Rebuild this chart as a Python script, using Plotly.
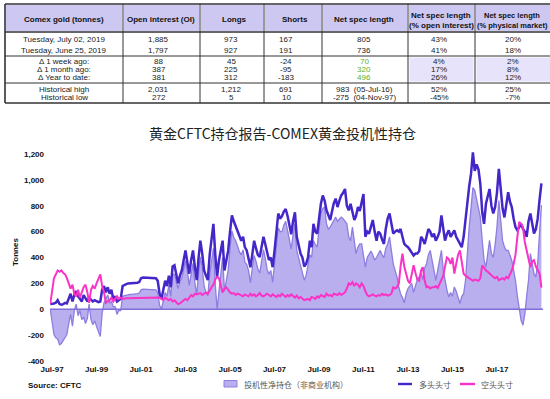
import plotly.graph_objects as go
import pandas as pd

# ---------------- DATA ----------------
dates = pd.date_range('1997-06-01', '2019-07-01', freq='MS')

longs = [
    40, 40, 45, 50, 70, 40, 35,                                  # 1997 Jun-Dec
    40, 50, 45, 90, 120, 60, 110, 140, 100, 80, 60, 110,         # 1998
    80, 60, 90, 70, 60, 70, 60, 55, 60, 150, 180, 130,           # 1999
    170, 120, 150, 80, 100, 60, 70, 80, 180, 190, 195, 200,      # 2000
    200, 200, 200, 200, 205, 210, 240, 245, 245, 245, 245, 245,  # 2001
    245, 240, 240, 220, 120, 80, 150, 220, 180, 260, 170, 330,   # 2002
    340, 250, 200, 260, 300, 380, 455, 360, 275, 380, 455, 330,  # 2003
    225, 400, 530, 430, 300, 260, 225, 420, 560, 660, 420, 250,  # 2004
    380, 470, 530, 300, 380, 455, 600, 725, 680, 640, 610, 560,  # 2005
    530, 560, 480, 455, 400, 325, 420, 530, 470, 420, 404, 470,  # 2006
    560, 500, 430, 380, 400, 325, 450, 600, 740, 700, 720, 755,  # 2007
    775, 720, 635, 580, 680, 750, 560, 480, 430, 400, 330, 350,  # 2008
    400, 530, 480, 660, 600, 585, 720, 815, 880, 840, 765, 720,  # 2009
    690, 760, 820, 855, 790, 840, 880, 900, 930, 800, 765, 815,  # 2010
    760, 690, 720, 790, 760, 820, 890, 560, 600, 585, 650, 690,  # 2011
    600, 530, 600, 585, 540, 505, 620, 700, 740, 650, 585, 600,  # 2012
    610, 600, 620, 560, 505, 490, 480, 460, 440, 415, 430, 430,  # 2013
    450, 560, 540, 505, 560, 620, 600, 560, 585, 530, 560, 600,  # 2014
    725, 600, 530, 580, 610, 560, 580, 610, 560, 530, 500, 480,  # 2015
    560, 700, 840, 950, 1046, 1212, 1070, 1120, 1080, 970, 750, 660,  # 2016
    815, 870, 930, 800, 740, 790, 900, 1085, 900, 780, 710, 800,  # 2017
    905, 830, 790, 700, 635, 610, 640, 660, 620, 600, 560, 680,  # 2018
    740, 650, 585, 620, 700, 850, 973,                           # 2019 Jan-Jul
]

shorts = [
    40, 150, 240, 270, 300, 290, 300,
    280, 270, 240, 200, 160, 190, 120, 100, 150, 90, 140, 170,
    190, 130, 50, 150, 180, 160, 200, 230, 270, 180, 130, 50,
    60, 70, 90, 60, 80, 100, 80, 90, 80, 85, 85, 85,
    85, 85, 85, 85, 85, 88, 90, 90, 90, 90, 90, 90,
    90, 90, 90, 90, 90, 80, 70, 90, 80, 70, 80, 60,
    70, 50, 40, 45, 60, 70, 80, 70, 90, 110, 100, 120,
    115, 120, 125, 110, 120, 130, 120, 150, 170, 190, 230, 250,
    240, 180, 130, 160, 170, 150, 130, 120, 125, 110, 120, 115,
    110, 100, 115, 110, 100, 120, 105, 115, 100, 110, 125, 105,
    100, 110, 120, 110, 100, 115, 105, 95, 110, 100, 120, 105,
    95, 110, 100, 115, 105, 90, 105, 85, 95, 80, 70, 75,
    80, 70, 95, 90, 80, 100, 90, 110, 100, 95, 120, 105,
    110, 100, 120, 115, 110, 125, 110, 120, 130, 160, 200, 190,
    210, 180, 200, 190, 170, 200, 180, 140, 110, 100, 110, 115,
    105, 100, 110, 105, 120, 110, 115, 105, 110, 120, 170, 160,
    170, 200, 330, 430, 330, 275, 220, 200, 260, 340, 280, 230,
    220, 300, 325, 220, 170, 175, 160, 170, 170, 180, 165, 200,
    225, 260, 330, 400, 390, 350, 400, 275, 350, 420, 455, 380,
    275, 260, 250, 235, 225, 220, 230, 225, 220, 240, 340, 320,
    300, 290, 275, 260, 250, 240, 250, 225, 235, 240, 230, 250,
    240, 275, 300, 350, 420, 560, 675, 660, 635, 520, 455, 380,
    325, 370, 380, 330, 300, 275, 167,
]

net = [
    0, -110, -195, -220, -230, -275, -265,
    -240, -220, -195, -110, -40, -130, -10, 40, -50, -10, -80, -60,
    -110, -70, 40, -80, -120, -90, -140, -175, -210, -30, 50, 80,
    110, 50, 60, 20, 20, -40, -10, -10, 100, 105, 110, 115,
    115, 115, 115, 115, 120, 125, 150, 155, 155, 155, 155, 155,
    155, 150, 150, 130, 30, 0, 80, 130, 100, 190, 100, 270,
    270, 200, 160, 215, 240, 310, 375, 290, 185, 270, 355, 210,
    110, 280, 405, 320, 180, 130, 105, 270, 390, 470, 190, 0,
    140, 290, 400, 140, 210, 305, 470, 605, 555, 530, 490, 445,
    420, 460, 365, 345, 300, 205, 315, 415, 370, 310, 280, 365,
    460, 390, 310, 270, 300, 210, 345, 505, 630, 600, 600, 650,
    680, 610, 535, 465, 575, 660, 455, 395, 335, 300, 225, 260,
    330, 420, 400, 530, 500, 480, 620, 740, 780, 790, 660, 620,
    635, 660, 690, 712, 680, 700, 712, 700, 680, 660, 560, 530,
    635, 520, 430, 480, 505, 505, 420, 325, 400, 430, 450, 420,
    380, 400, 430, 455, 420, 400, 470, 505, 560, 450, 350, 300,
    250, 170, 120, 90, 50, 120, 160, 180, 200, 130, 190, 230,
    250, 280, 230, 320, 350, 420, 455, 390, 300, 224, 300, 380,
    455, 300, 224, 150, 95, 130, 100, 172, 140, 100, 44, 100,
    120, 224, 450, 635, 780, 940, 920, 840, 780, 712, 532, 380,
    326, 450, 532, 430, 400, 500, 635, 840, 700, 532, 480, 455,
    455, 420, 378, 300, 224, 100, 18, -85, -123, -40, 100, 224,
    430, 350, 275, 250, 350, 600, 805,
]

x_tick_vals = ['1997-07-01', '1999-07-01', '2001-07-01', '2003-07-01', '2005-07-01',
               '2007-07-01', '2009-07-01', '2011-07-01', '2013-07-01', '2015-07-01',
               '2017-07-01']
x_tick_text = ['Jul-97', 'Jul-99', 'Jul-01', 'Jul-03', 'Jul-05', 'Jul-07', 'Jul-09',
               'Jul-11', 'Jul-13', 'Jul-15', 'Jul-17']
y_tick_vals = [-400, -200, 0, 200, 400, 600, 800, 1000, 1200]
y_tick_text = ['-400', '-200', '0', '200', '400', '600', '800', '1,000', '1,200']

title_text = '黄金CFTC持仓报告-COMEX黄金投机性持仓'
legend_net = '投机性净持仓（非商业机构）'
legend_long = '多头头寸'
legend_short = '空头头寸'
source_text = 'Source: CFTC'

# table
table_header = [
    ['Comex gold (tonnes)'],
    ['Open interest (OI)'],
    ['Longs'],
    ['Shorts'],
    ['Net spec length'],
    ['Net spec length', '(% open interest)'],
    ['Net spec length', '(% physical market)'],
]
table_rows = [
    ['Tuesday, July 02, 2019', '1,885', '973', '167', '805', '43%', '20%'],
    ['Tuesday, June 25, 2019', '1,797', '927', '191', '736', '41%', '18%'],
    ['Δ 1 week ago:', '88', '45', '-24', '70', '4%', '2%'],
    ['Δ 1 month ago:', '387', '225', '-95', '320', '17%', '8%'],
    ['Δ Year to date:', '381', '312', '-183', '496', '26%', '12%'],
    ['Historical high', '2,031', '1,212', '691', '983  (05-Jul-16)', '52%', '25%'],
    ['Historical low', '272', '5', '10', '-275  (04-Nov-97)', '-45%', '-7%'],
]

# ---------------- LAYOUT GEOMETRY ----------------
W, H = 550, 399
L, R, T, B = 50, 7, 150, 38
PW, PH = W - L - R, H - T - B
def X(px):
    return (px - L) / PW
def Y(py):
    return (H - B - py) / PH

C_LONG = '#4527C9'
C_SHORT = '#FA32C6'
C_NETL = '#8D7EE0'
C_NETF = '#B9AFEE'

fig = go.Figure()
fig.add_trace(go.Scatter(x=dates, y=net, mode='lines', fill='tozeroy',
                         line=dict(color=C_NETL, width=1.3), fillcolor=C_NETF,
                         name=legend_net))
fig.add_trace(go.Scatter(x=dates, y=longs, mode='lines',
                         line=dict(color=C_LONG, width=2.5), name=legend_long))
fig.add_trace(go.Scatter(x=dates, y=shorts, mode='lines',
                         line=dict(color=C_SHORT, width=2), name=legend_short))

shapes = []
annotations = []

# zero line
shapes.append(dict(type='line', xref='paper', yref='y', x0=0, x1=1, y0=0, y1=0,
                   line=dict(color='#7F6FD6', width=1.5), layer='above'))

# ---------------- TABLE ----------------
TF = 'Liberation Sans, Arial, sans-serif'
col_edges = [5, 123, 200, 264, 322, 408, 475, 560]
head_top, head_bot = 4, 32
tab_bot = 103
group_lines = [56, 83]
row_py = [40, 50.5, 61.5, 69.5, 77, 89, 97.5]
head_cx = [64, 161, 234, 295, 364, 441, 512]
body_cx = [64, 158.5, 231, 286, 364, 439, 513]
LINE_C = '#333333'

for i in range(7):
    shapes.append(dict(type='rect', xref='paper', yref='paper',
                       x0=X(col_edges[i] + 1), x1=X(col_edges[i + 1] - 1),
                       y0=Y(head_top + 1), y1=Y(head_bot - 1),
                       fillcolor='#CDC8F2', line=dict(width=0), layer='above'))
for i in (5, 6):
    shapes.append(dict(type='rect', xref='paper', yref='paper',
                       x0=X(col_edges[i] + 1.5), x1=X(col_edges[i + 1] - 1.5),
                       y0=Y(57.5), y1=Y(81.5),
                       fillcolor='#E7E3FA', line=dict(width=0), layer='above'))
# horizontal lines
for py, w in [(head_top, 1.6), (head_bot, 1.6), (group_lines[0], 1), (group_lines[1], 1), (tab_bot, 1.6)]:
    shapes.append(dict(type='line', xref='paper', yref='paper', x0=X(col_edges[0]), x1=X(col_edges[-1]),
                       y0=Y(py), y1=Y(py), line=dict(color=LINE_C, width=w), layer='above'))
# vertical lines
for i, px in enumerate(col_edges[:-1]):
    shapes.append(dict(type='line', xref='paper', yref='paper', x0=X(px), x1=X(px),
                       y0=Y(head_top), y1=Y(tab_bot),
                       line=dict(color=LINE_C, width=1.6 if i == 0 else 1), layer='above'))

for i, lines in enumerate(table_header):
    if len(lines) == 1:
        pys = [19.5]
    else:
        pys = [15.5, 25]
    fs = 7.5 if i == 6 else 8
    for txt, py in zip(lines, pys):
        annotations.append(dict(xref='paper', yref='paper', x=X(head_cx[i]), y=Y(py),
                                text='<b>%s</b>' % txt, showarrow=False, xanchor='center',
                                yanchor='middle', borderpad=0,
                                font=dict(family=TF, size=fs, color='#111')))
for r, row in enumerate(table_rows):
    for c, txt in enumerate(row):
        col = '#222'
        if c == 4 and 2 <= r <= 4:
            col = '#5BB030'
        annotations.append(dict(xref='paper', yref='paper', x=X(body_cx[c]), y=Y(row_py[r]),
                                text=txt, showarrow=False, xanchor='center', yanchor='middle',
                                borderpad=0, font=dict(family=TF, size=8, color=col)))

# ---------------- CHART TEXT ----------------
CJK = 'Noto Sans CJK SC, sans-serif'
annotations.append(dict(xref='paper', yref='paper', x=X(282), y=Y(133), text=title_text,
                        showarrow=False, xanchor='center', yanchor='middle',
                        font=dict(family=CJK, size=14, color='#222')))
annotations.append(dict(xref='paper', yref='paper', x=X(15), y=Y(252), text='<b>Tonnes</b>',
                        showarrow=False, xanchor='center', yanchor='middle', textangle=-90,
                        font=dict(family=TF, size=8, color='#111')))
annotations.append(dict(xref='paper', yref='paper', x=X(26), y=Y(385), text='<b>%s</b>' % source_text,
                        showarrow=False, xanchor='left', yanchor='middle',
                        font=dict(family=TF, size=8, color='#111')))

# legend (manual)
shapes.append(dict(type='rect', xref='paper', yref='paper', x0=X(224), x1=X(237), y0=Y(387), y1=Y(380.5),
                   fillcolor=C_NETF, line=dict(color=C_NETL, width=1)))
annotations.append(dict(xref='paper', yref='paper', x=X(242), y=Y(384), text=legend_net,
                        showarrow=False, xanchor='left', yanchor='middle',
                        font=dict(family=CJK, size=8, color='#555')))
shapes.append(dict(type='line', xref='paper', yref='paper', x0=X(398), x1=X(412), y0=Y(384), y1=Y(384),
                   line=dict(color=C_LONG, width=2.4)))
annotations.append(dict(xref='paper', yref='paper', x=X(417), y=Y(384), text=legend_long,
                        showarrow=False, xanchor='left', yanchor='middle',
                        font=dict(family=CJK, size=8, color='#555')))
shapes.append(dict(type='line', xref='paper', yref='paper', x0=X(460), x1=X(475), y0=Y(384), y1=Y(384),
                   line=dict(color=C_SHORT, width=2.4)))
annotations.append(dict(xref='paper', yref='paper', x=X(479), y=Y(384), text=legend_short,
                        showarrow=False, xanchor='left', yanchor='middle',
                        font=dict(family=CJK, size=8, color='#555')))

fig.update_layout(
    width=W, height=H,
    margin=dict(l=L, r=R, t=T, b=B, pad=0),
    paper_bgcolor='white', plot_bgcolor='white',
    showlegend=False, hovermode=False,
    shapes=shapes, annotations=annotations,
    xaxis=dict(type='date', range=['1997-05-28', '2019-07-27'], showgrid=False, zeroline=False,
               showline=False, tickvals=x_tick_vals, ticktext=x_tick_text, ticks='',
               tickfont=dict(family=TF, size=8, color='#111', weight='bold'), ticklabelstandoff=2),
    yaxis=dict(range=[-400, 1231], showgrid=False, zeroline=False, showline=False,
               tickvals=y_tick_vals, ticktext=y_tick_text, ticks='',
               tickfont=dict(family=TF, size=8, color='#111', weight='bold'), ticklabelstandoff=5),
)

fig.write_html('out.html', config={'displayModeBar': False, 'staticPlot': True},
               post_script="document.body.style.margin='0';document.body.style.overflow='hidden';")
